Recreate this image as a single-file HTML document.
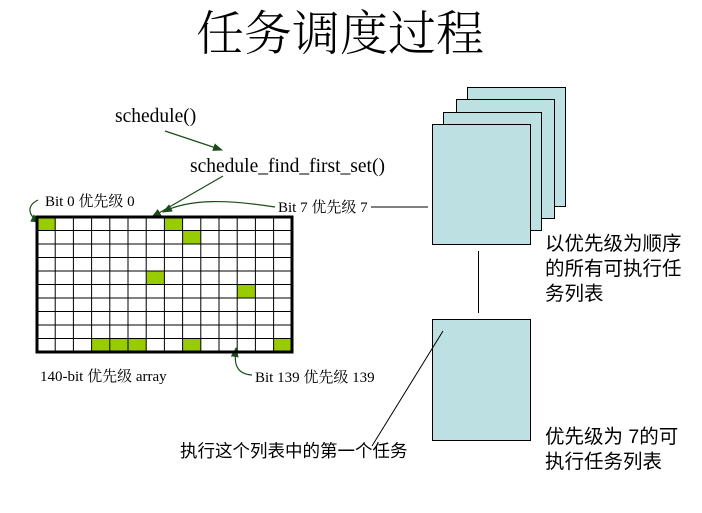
<!DOCTYPE html>
<html><head><meta charset="utf-8"><style>
body{margin:0;width:702px;height:508px;background:#fff;overflow:hidden}
svg text{font-family:"Liberation Serif","Noto Serif CJK SC",serif}
.cj{font-family:"Liberation Sans","Noto Sans CJK SC",sans-serif}
</style></head><body>
<svg width="702" height="508" xmlns="http://www.w3.org/2000/svg">
<defs><marker id="a" markerWidth="10" markerHeight="8" refX="9" refY="4" orient="auto" markerUnits="userSpaceOnUse"><path d="M0,0 L10,4 L0,8 z" fill="#1a4d1a"/></marker></defs>
<text x="340" y="50" font-size="48" text-anchor="middle" font-family="'Noto Sans CJK SC',sans-serif" font-weight="300">任务调度过程</text>
<text x="115" y="122" font-size="19.5">schedule()</text>
<line x1="165" y1="131" x2="222" y2="150" stroke="#1a4d1a" stroke-width="1.2" marker-end="url(#a)"/>
<text x="190" y="172" font-size="19.5">schedule_find_first_set()</text>
<line x1="223" y1="176" x2="152" y2="217" stroke="#1a4d1a" stroke-width="1.2" marker-end="url(#a)"/>
<path d="M275,207 C230,200 190,198 163,212" fill="none" stroke="#1a4d1a" stroke-width="1.2" marker-end="url(#a)"/>
<text x="278" y="212" font-size="15">Bit 7 优先级 7</text>
<line x1="371" y1="207" x2="428" y2="207" stroke="#000"/>
<text x="45" y="206" font-size="15">Bit 0 优先级 0</text>
<path d="M38,200 C26,206 28,216 40,222" fill="none" stroke="#1a4d1a" stroke-width="1.2" marker-end="url(#a)"/>
<text x="40" y="381" font-size="15">140-bit 优先级 array</text>
<path d="M252,375 C235,374 234,362 236,348" fill="none" stroke="#1a4d1a" stroke-width="1.2" marker-end="url(#a)"/>
<text x="255" y="382" font-size="15">Bit 139 优先级 139</text>
<g fill="#bde0e3" stroke="#000" stroke-width="1">
<rect x="467.5" y="87.5" width="98" height="119"/>
<rect x="456.5" y="99.5" width="98" height="119"/>
<rect x="443.5" y="112.5" width="98" height="118"/>
<rect x="432.5" y="124.5" width="98" height="120"/>
<rect x="432.5" y="319.5" width="98" height="121"/>
</g>
<line x1="478.5" y1="251" x2="478.5" y2="313" stroke="#000"/>
<line x1="443" y1="331" x2="372" y2="446" stroke="#000"/>
<g font-size="19.5" fill="#000">
<text x="545" y="250" class="cj">以优先级为顺序</text>
<text x="545" y="275" class="cj">的所有可执行任</text>
<text x="545" y="300" class="cj">务列表</text>
<text x="545" y="443" class="cj">优先级为 7的可</text>
<text x="545" y="468" class="cj">执行任务列表</text>
<text x="180" y="457" font-size="17.5" class="cj">执行这个列表中的第一个任务</text>
</g>
<g>
<g fill="#99cc00">
<rect x="37" y="217" width="18.2" height="13.5"/>
<rect x="164.4" y="217" width="18.2" height="13.5"/>
<rect x="182.6" y="230.5" width="18.2" height="13.5"/>
<rect x="146.2" y="271" width="18.2" height="13.5"/>
<rect x="237.2" y="284.5" width="18.2" height="13.5"/>
<rect x="91.6" y="338.5" width="54.6" height="13.5"/>
<rect x="182.6" y="338.5" width="18.2" height="13.5"/>
<rect x="273.6" y="338.5" width="18.2" height="13.5"/>
</g>
<g stroke="#000" stroke-width="1">
<path d="M55.2,217V352M73.4,217V352M91.6,217V352M109.8,217V352M128,217V352M146.2,217V352M164.4,217V352M182.6,217V352M200.8,217V352M219,217V352M237.2,217V352M255.4,217V352M273.6,217V352"/>
<path d="M37,230.5H292M37,244H292M37,257.5H292M37,271H292M37,284.5H292M37,298H292M37,311.5H292M37,325H292M37,338.5H292"/>
</g>
<rect x="37" y="217" width="255" height="135" fill="none" stroke="#000" stroke-width="3"/>
</g>
</svg>
</body></html>
